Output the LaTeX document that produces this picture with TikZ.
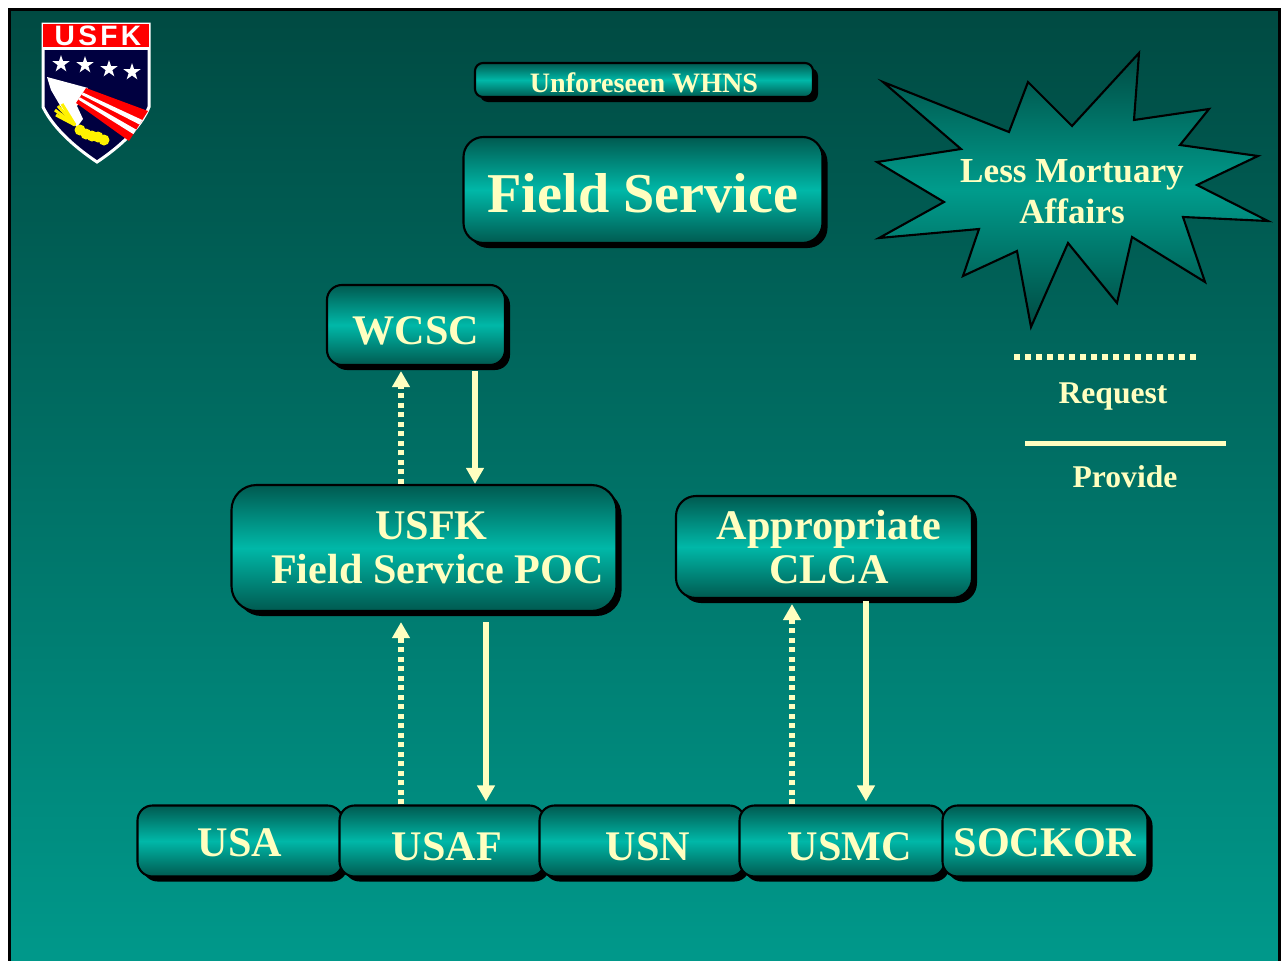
\documentclass[tikz,border=0pt]{standalone}
\usepackage{fontspec}
\setmainfont{Liberation Serif}
\newfontfamily\logofont[LetterSpace=12]{Liberation Sans}
\usetikzlibrary{arrows.meta,shadows,calc}

\definecolor{bgtop}{HTML}{004A42}
\definecolor{bgbot}{HTML}{009A8C}
\definecolor{boxdark}{HTML}{005A50}
\definecolor{boxlight}{HTML}{00B8A8}
\definecolor{burst}{HTML}{009C8C}
\definecolor{ink}{HTML}{FFFFC0}
\definecolor{navy}{HTML}{000040}
\definecolor{flagred}{HTML}{FF0000}

\begin{document}
\begin{tikzpicture}[
        x=0.1mm, y=-0.1mm,
        >={Triangle[width=1.7mm,length=1.6mm]},
        unit/.style={draw=black, line width=.6pt, rounded corners=1.5mm,
            top color=boxdark, bottom color=boxdark, middle color=boxlight,
            drop shadow={shadow xshift=.5mm, shadow yshift=-.5mm, fill=black, opacity=1},
            text=ink, font=\bfseries\fontsize{12}{12.5}\selectfont,
            align=center, inner sep=0pt},
        request/.style={color=ink, line width=.6mm, dash pattern=on .5mm off .45mm, ->},
        provide/.style={color=ink, line width=.6mm, ->}
        ]
            \useasboundingbox (0,0) rectangle (1283,960);
            \fill[top color=bgtop, bottom color=bgbot] (9,9) rectangle (1279,980);
            \draw[line width=.3mm] (9,980) -- (9,9) -- (1279,9) -- (1279,980);
            
            % logo
            \filldraw[fill=navy, draw=white, line width=.3mm] (43,24) -- (149,24) -- (149,107)
                .. controls (140,130) and (115,150) .. (97,162)
                .. controls (79,150) and (54,130) .. (43,107) -- cycle;
            \fill[flagred] (43,24) rectangle (149,48);
            \draw[white, line width=.3mm] (43,48) -- (149,48);
            \node[text=white, font=\logofont\bfseries\fontsize{8}{8}\selectfont] (usfklogo) at (98,36) {USFK};
            \foreach \sx/\sy in {61/64, 85/65, 109/69, 132/72}
                \fill[white] (\sx,\sy) +(90:.9mm) -- +(126:.35mm) -- +(162:.9mm) -- +(198:.35mm)
                    -- +(234:.9mm) -- +(270:.35mm) -- +(306:.9mm) -- +(342:.35mm)
                    -- +(18:.9mm) -- +(54:.35mm) -- cycle;
            \fill[white] (47,77) -- (88,88) -- (77,106) -- (83,119) -- (77,127) -- (68,119) -- (51,90) -- cycle;
            \coordinate (sa) at (86,88);
            \coordinate (sb) at (148,111);
            \coordinate (sc) at (129,141);
            \coordinate (sd) at (76,103);
            \fill[flagred] (sa) -- (sb) -- (sc) -- (sd) -- cycle;
            \foreach \t/\u in {.3/.45, .62/.77}
                \fill[white] ($(sa)!\t!(sd)$) -- ($(sb)!\t!(sc)$) -- ($(sb)!\u!(sc)$) -- ($(sa)!\u!(sd)$) -- cycle;
            \foreach \fx/\fy in {80/130, 86/134, 92/136, 98/137, 104/140}
                \fill[yellow] (\fx,\fy) circle (.55mm);
            \foreach \rx/\ry in {55/110, 58/106, 62/104, 56/115}
                \draw[yellow, line width=.3mm] (\rx,\ry) -- (75,125);
            
            \node[unit, minimum width=33.8mm, minimum height=3.4mm, rounded corners=.8mm,
                text height=2.4mm, text depth=0pt,
                font=\bfseries\fontsize{8}{9}\selectfont] (whns) at (644,80) {Unforeseen WHNS};
            \node[unit, minimum width=35.9mm, minimum height=10.6mm, rounded corners=2mm,
                text height=4.4mm, text depth=0pt,
                font=\bfseries\fontsize{16}{18}\selectfont] (field) at (643,190) {Field Service};
            
            \draw[line width=.6pt, top color=bgtop, bottom color=bgtop, middle color=burst]
                (883,82) -- (1009,132) -- (1028,82) -- (1072,126) -- (1139,53) -- (1134,120)
                -- (1209,109) -- (1180,145) -- (1258,156) -- (1197,185) -- (1268,221)
                -- (1183,217) -- (1205,282) -- (1132,237) -- (1117,303) -- (1068,243)
                -- (1031,327) -- (1017,251) -- (963,276) -- (979,229) -- (879,238)
                -- (944,202) -- (877,162) -- (961,149) -- cycle;
            \node[text=ink, align=center, font=\bfseries\fontsize{10}{11.7}\selectfont] (less) at (1072,192) {Less Mortuary\\Affairs};
            
            \node[unit, minimum width=17.8mm, minimum height=8mm, text height=3.8mm, text depth=0pt] (wcsc) at (416,325) {WCSC};
            \node[unit, minimum width=38.5mm, minimum height=12.6mm, rounded corners=2.5mm] (usfk) at (424,548)
                {\hspace*{1.5mm}USFK\\\hspace*{2.7mm}Field Service POC};
            \node[unit, minimum width=29.6mm, minimum height=10.2mm, rounded corners=2mm] (clca) at (824,547)
                {\hspace*{1mm}Appropriate\\\hspace*{1mm}CLCA};
            
            \foreach \name/\cx/\dx/\th/\label in {usa/240/0mm/3.1mm/USA, usaf/442/1mm/3.9mm/USAF,
                    usn/642/1.2mm/3.9mm/USN, usmc/842/1.6mm/3.9mm/USMC, sockor/1045/0mm/3.1mm/SOCKOR}
                \node[unit, minimum width=20.5mm, minimum height=7.1mm, text height=\th, text depth=0pt]
                    (\name) at (\cx,841) {\hspace*{\dx}\label};
            
            \coordinate (up1) at (401,0);
            \coordinate (dn1) at (475,0);
            \coordinate (up2) at (401,0);
            \coordinate (dn2) at (486,0);
            \coordinate (up3) at (792,0);
            \coordinate (dn3) at (866,0);
            
            \draw[request, shorten >=.5mm] (usfk.north -| up1) -- (wcsc.south -| up1);
            \draw[provide, shorten <=.5mm] (wcsc.south -| dn1) -- (usfk.north -| dn1);
            \draw[request, shorten >=1mm] (usaf.north -| up2) -- (usfk.south -| up2);
            \draw[provide, shorten <=1mm, shorten >=.3mm] (usfk.south -| dn2) -- (usaf.north -| dn2);
            \draw[request, shorten >=.5mm] (usmc.north -| up3) -- (clca.south -| up3);
            \draw[provide, shorten <=.2mm, shorten >=.3mm] (clca.south -| dn3) -- (usmc.north -| dn3);
            
            % legend
            \coordinate (reqa) at (1014,357);
            \coordinate (reqb) at (1200,357);
            \draw[ink, line width=.6mm, dash pattern=on .6mm off .5mm] (reqa) -- (reqb);
            \node[text=ink, anchor=base, font=\bfseries\fontsize{9}{10}\selectfont] (req) at (1113,403) {Request};
            \coordinate (prova) at (1025,443);
            \coordinate (provb) at (1226,443);
            \draw[ink, line width=.5mm] (prova) -- (provb);
            \node[text=ink, anchor=base, font=\bfseries\fontsize{9}{10}\selectfont] (prov) at (1125,487) {Provide};
        \end{tikzpicture}
\end{document}
